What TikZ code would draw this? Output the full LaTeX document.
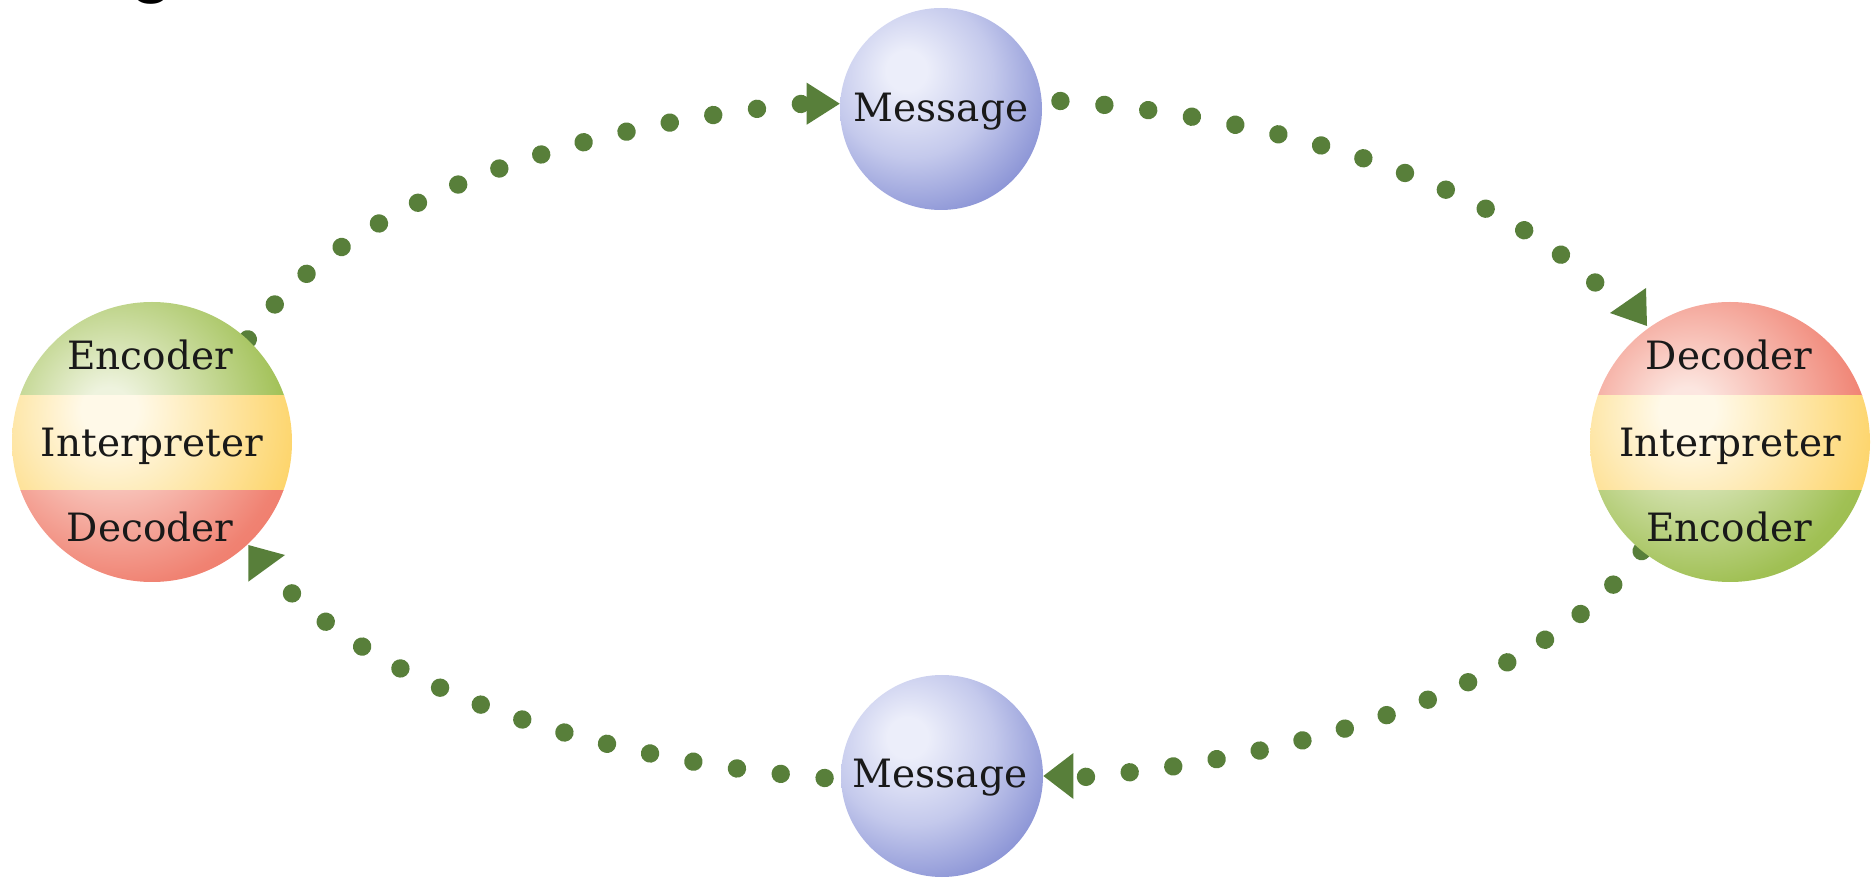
\documentclass[tikz,border=0pt]{standalone}
\usepackage{fontspec}
\setmainfont{DejaVu Serif}
\newfontfamily\fragfont{Liberation Sans}
\usetikzlibrary{calc,decorations.markings}
\pgfdeclarelayer{bg}
\pgfsetlayers{bg,main}
\definecolor{dotc}{RGB}{88,127,58}
\definecolor{txtc}{RGB}{25,25,25}
\definecolor{gIn}{RGB}{238,243,222}
\definecolor{gX}{RGB}{160,192,84}
\definecolor{gD}{RGB}{144,178,64}
\definecolor{yIn}{RGB}{255,249,232}
\definecolor{yX}{RGB}{253,212,105}
\definecolor{yD}{RGB}{250,196,74}
\definecolor{rIn}{RGB}{252,230,224}
\definecolor{rX}{RGB}{240,130,114}
\definecolor{rD}{RGB}{235,106,90}
\definecolor{bIn}{RGB}{236,238,250}
\definecolor{bM}{RGB}{196,201,236}
\definecolor{bX}{RGB}{140,149,214}
\definecolor{bD}{RGB}{114,124,198}
\pgfdeclareradialshading{shG}{\pgfpoint{-8bp}{6bp}}{color(0bp)=(gIn); color(4bp)=(gIn); color(30bp)=(gX); color(48bp)=(gD); color(100bp)=(gD)}
\pgfdeclareradialshading{shY}{\pgfpoint{-8bp}{6bp}}{color(0bp)=(yIn); color(5bp)=(yIn); color(32bp)=(yX); color(50bp)=(yD); color(100bp)=(yD)}
\pgfdeclareradialshading{shR}{\pgfpoint{-8bp}{6bp}}{color(0bp)=(rIn); color(4bp)=(rIn); color(30bp)=(rX); color(48bp)=(rD); color(100bp)=(rD)}
\pgfdeclareradialshading{shB}{\pgfpoint{-9bp}{10bp}}{color(0bp)=(bIn); color(5bp)=(bIn); color(20bp)=(bM); color(34bp)=(bX); color(52bp)=(bD); color(100bp)=(bD)}
\newcommand\mybandfill[3]{%
  \begin{scope}
    \clip ($(path picture bounding box.center)+(-150,46)$) rectangle ($(path picture bounding box.center)+(150,150)$);
    \shade[shading=#1] (path picture bounding box.center) circle (140);
  \end{scope}
  \begin{scope}
    \clip ($(path picture bounding box.center)+(-150,-49)$) rectangle ($(path picture bounding box.center)+(150,46)$);
    \shade[shading=#2] (path picture bounding box.center) circle (140);
  \end{scope}
  \begin{scope}
    \clip ($(path picture bounding box.center)+(-150,-150)$) rectangle ($(path picture bounding box.center)+(150,-49)$);
    \shade[shading=#3] (path picture bounding box.center) circle (140);
  \end{scope}}
\tikzset{
  msgball/.style={circle, minimum size=101pt, inner sep=0pt,
    path picture={\shade[shading=shB] (path picture bounding box.center) circle (101);}},
  bandball/.style n args={3}{circle, minimum size=140pt, inner sep=0pt,
    path picture={\mybandfill{#1}{#2}{#3}}},
  lbl/.style={anchor=base, inner sep=0pt, text=txtc, font=\fontsize{19.5pt}{23pt}\selectfont},
  dotpath/.style={decorate, decoration={markings,
    mark=between positions 0 and 1 step #1 with {\fill[dotc] (0,0) circle (4.6pt);}}},
  tip/.style={fill=dotc}
}
\begin{document}
\begin{tikzpicture}[x=0.5pt,y=0.5pt]
\useasboundingbox (0,0) rectangle (1875,879);
% fragment of a heading cut off at the top
\begin{scope}
  \clip (0,0) rectangle (1875,879);
  \node[anchor=base, inner sep=0pt, font=\fragfont\bfseries\fontsize{35pt}{40pt}\selectfont] (frag) at (152,889) {g};
\end{scope}
% nodes
\node[bandball={shG}{shY}{shR}] (L) at (152,437) {};
\node[bandball={shR}{shY}{shG}] (R) at (1730,437) {};
\node[msgball] (M1) at (941,770) {};
\node[msgball] (M2) at (942,103) {};
% labels
\node[lbl] (L1) at ($(L)+(-2,72)$) {Encoder};
\node[lbl] (L2) at ($(L)+(0,-15)$) {Interpreter};
\node[lbl] (L3) at ($(L)+(-2,-100)$) {Decoder};
\node[lbl] (R1) at ($(R)+(-1,72)$) {Decoder};
\node[lbl] (R2) at ($(R)+(0,-15)$) {Interpreter};
\node[lbl] (R3) at ($(R)+(-1,-100)$) {Encoder};
\node[lbl] (M1t) at ($(M1)+(0,-13)$) {Message};
\node[lbl] (M2t) at ($(M2)+(-2,-12)$) {Message};
% free ends of the dotted connectors (arrow bases)
\coordinate (eA) at ($(M1.177)+(-36,0)$);
\coordinate (eB) at ($(R)+(-132.8,157.7)$);
\coordinate (eC) at ($(M2.east)+(39.7,-1.1)$);
\coordinate (eD) at ($(L)+(138,-149.5)$);
\begin{pgfonlayer}{bg}
  \path[dotpath=0.07107] (L.47) .. controls +(78.6,121.4) and +(-263.7,-24.9) .. (eA);
  \path[dotpath=0.07654] ($(M1.east)+(18,8)$) .. controls +(230.7,-17.0) and +(-106.7,98.0) .. (eB);
  \path[dotpath=0.07107] (R.231) .. controls +(-84.0,-117.2) and +(260.2,22.9) .. (eC);
  \path[dotpath=0.07654] ($(M2.west)+(-16,-2)$) .. controls +(-232.5,18.4) and +(103.4,-98.9) .. (eD);
\end{pgfonlayer}
% arrowheads
\fill[tip] (M1.177) -- +(-33,21) -- +(-33,-21) -- cycle;
\fill[tip] (M2.east) -- +(30,23) -- +(30,-23) -- cycle;
\fill[tip] ($(R)+(-120,129)$) -- ($(R)+(-84,154)$) -- ($(R)+(-83,116)$) -- cycle;
\fill[tip] ($(L)+(96.3,-103)$) -- ($(L)+(133,-113)$) -- ($(L)+(96.3,-139.7)$) -- cycle;
\end{tikzpicture}
\end{document}
